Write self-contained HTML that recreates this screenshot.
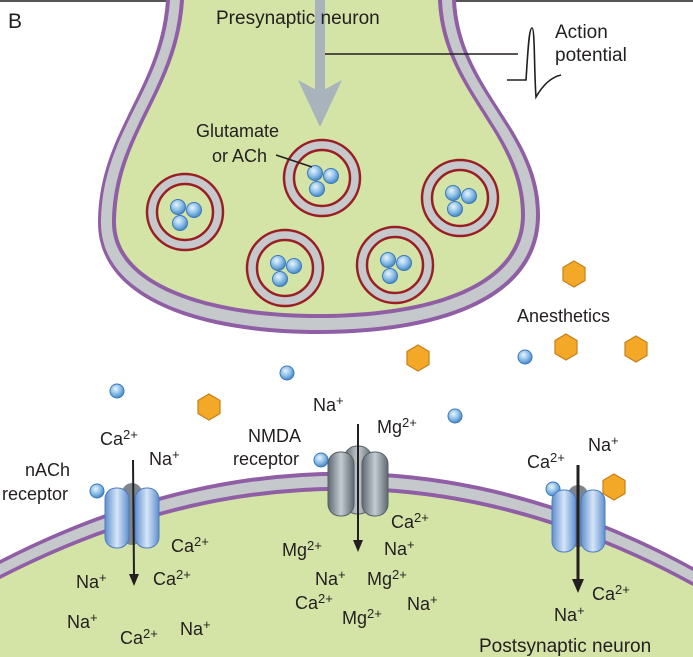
<!DOCTYPE html>
<html><head><meta charset="utf-8"><style>
html,body{margin:0;padding:0;background:#fff;}
svg{display:block;}
text{font-family:"Liberation Sans",Arial,sans-serif;font-size:18px;fill:#231f20;}
</style></head><body>
<svg width="693" height="657" viewBox="0 0 693 657" xmlns="http://www.w3.org/2000/svg">
<defs>
<radialGradient id="bd" cx="0.4" cy="0.35" r="0.7"><stop offset="0" stop-color="#e8f4fc"/><stop offset="0.5" stop-color="#8fc1e8"/><stop offset="1" stop-color="#3c7fc0"/></radialGradient>
<linearGradient id="rb" x1="0" x2="1"><stop offset="0" stop-color="#5f8fcf"/><stop offset="0.5" stop-color="#d6e6f8"/><stop offset="1" stop-color="#5f8fcf"/></linearGradient>
<linearGradient id="rg" x1="0" x2="1"><stop offset="0" stop-color="#5e6870"/><stop offset="0.5" stop-color="#c4ccd2"/><stop offset="1" stop-color="#5e6870"/></linearGradient>
<g id="ves">
<circle r="38" fill="#c5c9cc" stroke="#9a1f25" stroke-width="2.5"/>
<circle r="28" fill="#d4e3a6" stroke="#9a1f25" stroke-width="2.5"/>
<circle cx="-7" cy="-5" r="7.5" fill="url(#bd)" stroke="#3a78b8" stroke-width="1"/>
<circle cx="9" cy="-2" r="7.5" fill="url(#bd)" stroke="#3a78b8" stroke-width="1"/>
<circle cx="-5" cy="11" r="7.5" fill="url(#bd)" stroke="#3a78b8" stroke-width="1"/>
</g>
<g id="hex"><polygon points="0,-13 11,-6.5 11,6.5 0,13 -11,6.5 -11,-6.5" fill="#f3a827" stroke="#c9801a" stroke-width="1.2"/></g>
<g id="dot"><circle r="7" fill="url(#bd)" stroke="#3a78b8" stroke-width="1"/></g>
</defs>
<rect width="693" height="657" fill="#fff"/>
<line x1="0" y1="1" x2="693" y2="1" stroke="#555" stroke-width="2"/>

<path d="M0,560 Q350,380 693,567 L693,657 L0,657 Z" fill="#8f5ea5"/>
<path d="M0,564 Q350,384 693,571 L693,657 L0,657 Z" fill="#c5c9cc"/>
<path d="M0,575 Q350,395 693,582 L693,657 L0,657 Z" fill="#8f5ea5"/>
<path d="M0,579 Q350,399 693,586 L693,657 L0,657 Z" fill="#d4e3a6"/>

<path d="M166,0 C160,90 100,130 98,220 C96,300 200,334 318,334 C440,334 540,300 540,215 C540,130 460,90 456,0 Z" fill="#8f5ea5"/>
<path d="M170,0 C164,90 103,130 101,220 C99,297 202,330 318,330 C438,330 536,297 536,215 C536,130 456,90 452,0 Z" fill="#c5c9cc"/>
<path d="M180,0 C174,92 114,132 112,220 C110,288 210,318 318,318 C432,318 525,288 525,215 C525,132 446,92 442,0 Z" fill="#8f5ea5"/>
<path d="M184,0 C178,92 118,132 116,220 C114,285 212,314 318,314 C430,314 521,285 521,215 C521,132 442,92 438,0 Z" fill="#d4e3a6"/>

<rect x="315" y="0" width="10" height="95" fill="#a9b3bb"/>
<polygon points="298,80 320,127 342,80 320,92" fill="#a9b3bb"/>

<polyline points="325,54 518,54" fill="none" stroke="#231f20" stroke-width="1.6"/>
<path d="M507,80 L526,80 C528,50 529,28 532,28 C535,28 534,70 536,97 C540,90 548,78 561,75" fill="none" stroke="#231f20" stroke-width="1.6"/>

<use href="#ves" x="185" y="212"/>
<use href="#ves" x="322" y="178"/>
<use href="#ves" x="285" y="268"/>
<use href="#ves" x="395" y="265"/>
<use href="#ves" x="460" y="198"/>
<line x1="276" y1="155" x2="312" y2="167" stroke="#231f20" stroke-width="1.6"/>

<use href="#hex" x="574" y="274"/>
<use href="#hex" x="418" y="358"/>
<use href="#hex" x="566" y="347"/>
<use href="#hex" x="636" y="349"/>
<use href="#hex" x="209" y="407"/>
<use href="#hex" x="614" y="487"/>

<use href="#dot" x="525" y="357"/>
<use href="#dot" x="287" y="373"/>
<use href="#dot" x="117" y="391"/>
<use href="#dot" x="455" y="416"/>
<use href="#dot" x="321" y="460"/>
<use href="#dot" x="97" y="491"/>
<use href="#dot" x="553" y="489"/>

<rect x="122" y="483" width="20" height="62" rx="10" fill="#7d868c"/>
<rect x="105" y="488" width="24" height="60" rx="11" fill="url(#rb)" stroke="#4c7cbf" stroke-width="1"/>
<rect x="135" y="488" width="24" height="60" rx="11" fill="url(#rb)" stroke="#4c7cbf" stroke-width="1"/>
<rect x="344" y="446" width="28" height="68" rx="13" fill="url(#rg)" stroke="#555f66" stroke-width="1"/>
<rect x="328" y="452" width="26" height="64" rx="12" fill="url(#rg)" stroke="#555f66" stroke-width="1"/>
<rect x="362" y="452" width="26" height="64" rx="12" fill="url(#rg)" stroke="#555f66" stroke-width="1"/>
<rect x="568" y="485" width="20" height="62" rx="10" fill="#7d868c"/>
<rect x="552" y="490" width="24" height="62" rx="11" fill="url(#rb)" stroke="#4c7cbf" stroke-width="1"/>
<rect x="581" y="490" width="24" height="62" rx="11" fill="url(#rb)" stroke="#4c7cbf" stroke-width="1"/>

<line x1="133" y1="460" x2="134" y2="576" stroke="#231f20" stroke-width="2"/>
<polygon points="129,574 134,586 139,574" fill="#231f20"/>
<line x1="358" y1="424" x2="358" y2="542" stroke="#231f20" stroke-width="2"/>
<polygon points="353,540 358,552 363,540" fill="#231f20"/>
<line x1="578" y1="465" x2="578" y2="582" stroke="#231f20" stroke-width="3"/>
<polygon points="572,579 578,593 584,579" fill="#231f20"/>

<text x="8" y="28" style="font-size:21px">B</text>
<text x="216" y="24" style="font-size:19px">Presynaptic neuron</text>
<text x="555" y="38" style="font-size:19px">Action</text>
<text x="555" y="61" style="font-size:19px">potential</text>
<text x="196" y="137">Glutamate</text>
<text x="212" y="162">or ACh</text>
<text x="517" y="322">Anesthetics</text>

<text x="100" y="445">Ca<tspan font-size="13" dy="-6">2+</tspan></text>
<text x="149" y="465">Na<tspan font-size="13" dy="-6">+</tspan></text>
<text x="25" y="476">nACh</text>
<text x="2" y="500">receptor</text>
<text x="248" y="442">NMDA</text>
<text x="233" y="465">receptor</text>
<text x="313" y="411">Na<tspan font-size="13" dy="-6">+</tspan></text>
<text x="377" y="433">Mg<tspan font-size="13" dy="-6">2+</tspan></text>
<text x="527" y="468">Ca<tspan font-size="13" dy="-6">2+</tspan></text>
<text x="588" y="451">Na<tspan font-size="13" dy="-6">+</tspan></text>

<text x="171" y="552">Ca<tspan font-size="13" dy="-6">2+</tspan></text>
<text x="76" y="588">Na<tspan font-size="13" dy="-6">+</tspan></text>
<text x="153" y="585">Ca<tspan font-size="13" dy="-6">2+</tspan></text>
<text x="67" y="628">Na<tspan font-size="13" dy="-6">+</tspan></text>
<text x="120" y="644">Ca<tspan font-size="13" dy="-6">2+</tspan></text>
<text x="180" y="635">Na<tspan font-size="13" dy="-6">+</tspan></text>

<text x="282" y="556">Mg<tspan font-size="13" dy="-6">2+</tspan></text>
<text x="391" y="528">Ca<tspan font-size="13" dy="-6">2+</tspan></text>
<text x="384" y="555">Na<tspan font-size="13" dy="-6">+</tspan></text>
<text x="315" y="585">Na<tspan font-size="13" dy="-6">+</tspan></text>
<text x="367" y="585">Mg<tspan font-size="13" dy="-6">2+</tspan></text>
<text x="295" y="609">Ca<tspan font-size="13" dy="-6">2+</tspan></text>
<text x="407" y="610">Na<tspan font-size="13" dy="-6">+</tspan></text>
<text x="342" y="624">Mg<tspan font-size="13" dy="-6">2+</tspan></text>

<text x="592" y="600">Ca<tspan font-size="13" dy="-6">2+</tspan></text>
<text x="554" y="621">Na<tspan font-size="13" dy="-6">+</tspan></text>
<text x="479" y="652" style="font-size:19px">Postsynaptic neuron</text>
</svg>
</body></html>
